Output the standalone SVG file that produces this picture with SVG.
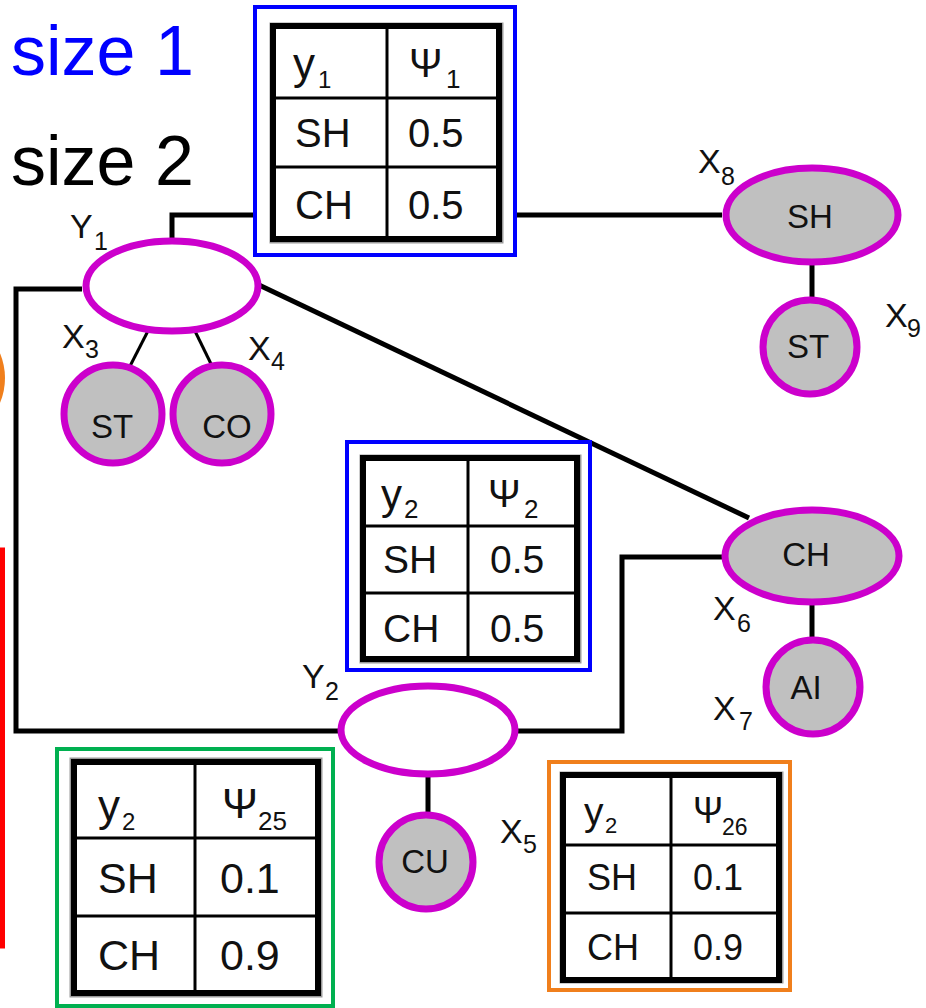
<svg xmlns="http://www.w3.org/2000/svg" width="926" height="1008" viewBox="0 0 926 1008">
<style>
.t{font-family:"Liberation Sans",Arial,sans-serif;fill:#111}
.lbl{font-size:34px}
.sub{font-size:25px}
.nt{font-size:33px;text-anchor:middle}
.node{stroke:#cc00cc;stroke-width:7;fill:#c0c0c0}
.lat{stroke:#cc00cc;stroke-width:7;fill:#fff}
.conn{fill:none;stroke:#000;stroke-width:5}
.thin{fill:none;stroke:#000;stroke-width:3}
.tb{fill:#fff;stroke:#000;stroke-width:6}
.tbs{fill:none;stroke:#999;stroke-width:3}
.tl{stroke:#000;stroke-width:3}
</style>
<rect x="0" y="0" width="926" height="1008" fill="#fff"/>
<circle cx="-60" cy="378" r="65" fill="#f07f1c"/>
<rect x="-100" y="550" width="102.5" height="396" fill="none" stroke="#ff0000" stroke-width="5"/>
<text class="t" x="11" y="75" font-size="70" style="fill:#0000ff">size 1</text>
<text class="t" x="11" y="185" font-size="70" style="fill:#000">size 2</text>
<g id="connectors">
<path class="conn" d="M172,240 V215 H722"/>
<path class="conn" d="M82,289 H16 V731 H339"/>
<path class="conn" d="M516,731 H622 V557 H724"/>
<path class="conn" d="M259,285 L749,518"/>
<path class="thin" d="M150,327 L128,370"/>
<path class="thin" d="M193,327 L215,372"/>
<path class="conn" d="M812,265 V302"/>
<path class="conn" d="M812,603 V642"/>
<path class="conn" d="M428,776 V816"/>
</g>
<g id="Y1">
<ellipse class="lat" cx="172" cy="286" rx="86" ry="45"/>
<text class="t lbl" x="70" y="238">Y<tspan class="sub" x="94" y="250">1</tspan></text>
</g>
<g id="Y2">
<ellipse class="lat" cx="428" cy="730" rx="87" ry="44"/>
<text class="t lbl" x="302" y="688">Y<tspan class="sub" x="325" y="700">2</tspan></text>
</g>
<g id="X3">
<circle class="node" cx="113" cy="414" r="49"/>
<text class="t nt" x="112" y="438">ST</text>
<text class="t lbl" x="62" y="348">X<tspan class="sub" x="85" y="358">3</tspan></text>
</g>
<g id="X4">
<circle class="node" cx="222" cy="414" r="49"/>
<text class="t nt" x="227" y="438">CO</text>
<text class="t lbl" x="248" y="360">X<tspan class="sub" x="271" y="370">4</tspan></text>
</g>
<g id="X8">
<ellipse class="node" cx="812" cy="215" rx="86" ry="47"/>
<text class="t nt" x="810" y="228">SH</text>
<text class="t lbl" x="698" y="173">X<tspan class="sub" x="721" y="185">8</tspan></text>
</g>
<g id="X9">
<circle class="node" cx="810" cy="347" r="47"/>
<text class="t nt" x="808" y="358">ST</text>
<text class="t lbl" x="885" y="327">X<tspan class="sub" x="907" y="337">9</tspan></text>
</g>
<g id="X6">
<ellipse class="node" cx="812" cy="556" rx="87" ry="46"/>
<text class="t nt" x="806" y="566">CH</text>
<text class="t lbl" x="713" y="620">X<tspan class="sub" x="737" y="632">6</tspan></text>
</g>
<g id="X7">
<circle class="node" cx="813" cy="687" r="47"/>
<text class="t nt" x="806" y="699">AI</text>
<text class="t lbl" x="713" y="720">X<tspan class="sub" x="739" y="730">7</tspan></text>
</g>
<g id="X5">
<circle class="node" cx="426" cy="862" r="47"/>
<text class="t nt" x="425" y="873">CU</text>
<text class="t lbl" x="500" y="843">X<tspan class="sub" x="523" y="853">5</tspan></text>
</g>
<g id="table-psi1">
<rect x="255" y="7" width="260" height="248" fill="#fff" stroke="#0000ff" stroke-width="4"/>
<rect class="tbs" x="271" y="24" width="231" height="218"/>
<rect class="tb" x="273" y="26" width="226" height="213"/>
<line class="tl" x1="387" y1="26" x2="387" y2="239"/>
<line class="tl" x1="273" y1="98" x2="499" y2="98"/>
<line class="tl" x1="273" y1="167" x2="499" y2="167"/>
<g class="t" font-size="40">
<text x="293" y="79" font-size="44">y<tspan x="318" y="88" font-size="24">1</tspan></text>
<text x="409" y="77">Ψ<tspan x="446" y="88" font-size="26">1</tspan></text>
<text x="295" y="147">SH</text><text x="408" y="147">0.5</text>
<text x="295" y="219">CH</text><text x="408" y="219">0.5</text>
</g>
</g>
<g id="table-psi2">
<rect x="347" y="442" width="243" height="228" fill="#fff" stroke="#0000ff" stroke-width="4"/>
<rect class="tbs" x="361" y="456" width="219" height="206"/>
<rect class="tb" x="363" y="458" width="214" height="201"/>
<line class="tl" x1="468" y1="458" x2="468" y2="659"/>
<line class="tl" x1="363" y1="526" x2="577" y2="526"/>
<line class="tl" x1="363" y1="593" x2="577" y2="593"/>
<g class="t" font-size="39">
<text x="381" y="509" font-size="42">y<tspan x="404" y="518" font-size="26">2</tspan></text>
<text x="488" y="507">Ψ<tspan x="524" y="518" font-size="26">2</tspan></text>
<text x="383" y="573">SH</text><text x="490" y="573">0.5</text>
<text x="383" y="642">CH</text><text x="490" y="642">0.5</text>
</g>
</g>
<g id="table-psi25">
<rect x="57" y="749" width="276" height="257" fill="#fff" stroke="#00b050" stroke-width="4"/>
<rect class="tbs" x="71" y="759" width="250" height="237"/>
<rect class="tb" x="74" y="762" width="244" height="231"/>
<line class="tl" x1="195" y1="762" x2="195" y2="993"/>
<line class="tl" x1="74" y1="838" x2="318" y2="838"/>
<line class="tl" x1="74" y1="916" x2="318" y2="916"/>
<g class="t" font-size="43">
<text x="98" y="821" font-size="44">y<tspan x="122" y="830" font-size="24">2</tspan></text>
<text x="222" y="818">Ψ<tspan x="258" y="830" font-size="26">25</tspan></text>
<text x="98" y="893">SH</text><text x="220" y="893">0.1</text>
<text x="98" y="970">CH</text><text x="220" y="970">0.9</text>
</g>
</g>
<g id="table-psi26">
<rect x="549" y="762" width="241" height="228" fill="#fff" stroke="#f07f1c" stroke-width="4"/>
<rect class="tbs" x="561" y="773" width="221" height="209"/>
<rect class="tb" x="563" y="775" width="216" height="205"/>
<line class="tl" x1="671" y1="775" x2="671" y2="980"/>
<line class="tl" x1="563" y1="845" x2="779" y2="845"/>
<line class="tl" x1="563" y1="913" x2="779" y2="913"/>
<g class="t" font-size="36">
<text x="584" y="825" font-size="39">y<tspan x="605" y="833" font-size="22">2</tspan></text>
<text x="693" y="823">Ψ<tspan x="722" y="835" font-size="23">26</tspan></text>
<text x="587" y="890">SH</text><text x="693" y="890">0.1</text>
<text x="587" y="960">CH</text><text x="693" y="960">0.9</text>
</g>
</g>
</svg>
